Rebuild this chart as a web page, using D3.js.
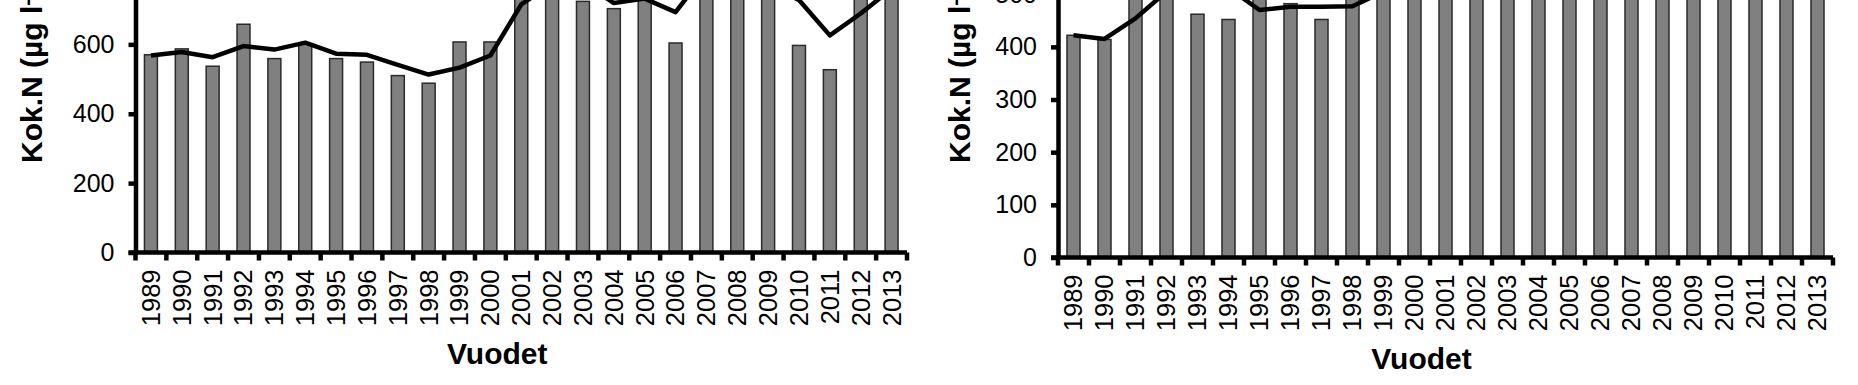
<!DOCTYPE html>
<html>
<head>
<meta charset="utf-8">
<script src="https://cdn.jsdelivr.net/npm/d3@7"></script>
<style>
  body { margin: 0; background: #fff; }
  svg { display: block; font-family: "Liberation Sans", Arial, sans-serif; }
</style>
</head>
<body>
<div class="plot-container"></div>
<script>
const years = ["1989", "1990", "1991", "1992", "1993", "1994", "1995", "1996", "1997", "1998", "1999", "2000", "2001",
  "2002", "2003", "2004", "2005", "2006", "2007", "2008", "2009", "2010", "2011", "2012", "2013"];

// left panel: yearly bars + running line
const leftBars = [570, 587, 537, 658, 559, 602, 559, 549, 510, 488, 607, 607, 850, 900, 724, 703, 780, 604, 950, 870, 820, 597, 527, 800, 880];
const leftLine = [568, 578, 563, 595, 585, 605, 573, 570, 541, 513, 533, 568, 715, 775, 779, 719, 732, 693, 808, 800, 770, 728, 626, 689, 760];
const leftTicks = [0, 200, 400, 600, 800];

// right panel
const rightBars = [422, 414, 560, 600, 462, 452, 495, 482, 452, 495, 600, 620, 580, 640, 610, 590, 650, 600, 620, 700, 640, 580, 600, 620, 650];
const rightLine = [422, 415, 454, 505, 520, 512, 470, 476, 476, 477, 505, 560, 580, 590, 600, 580, 600, 590, 610, 620, 600, 590, 600, 610, 620];
const rightTicks = [0, 100, 200, 300, 400, 500];

const width = 1858, height = 385;
const AXIS_W = 4.5;
const BAR_FILL = "#808080";
const BAR_STROKE = "#2b2b2b";

const svg = d3.select("div.plot-container").append("svg")
  .attr("width", width).attr("height", height);

function drawPanel(opts) {
  const g = svg.append("g");

  const x = d3.scaleBand().domain(years).range([opts.x0, opts.x1]).padding(0);
  const y = d3.scaleLinear().domain(opts.yDomain).range(opts.yRange);
  const barW = x.bandwidth() * 0.42;

  // bars
  g.append("g")
    .selectAll("rect")
    .data(opts.bars)
    .enter()
    .append("rect")
    .attr("x", (d, i) => x(years[i]) + (x.bandwidth() - barW) / 2)
    .attr("width", barW)
    .attr("y", d => y(d))
    .attr("height", d => y(0) - y(d))
    .attr("fill", BAR_FILL)
    .attr("stroke", BAR_STROKE)
    .attr("stroke-width", 1.5);

  // line
  const line = d3.line()
    .x((d, i) => x(years[i]) + x.bandwidth() / 2)
    .y(d => y(d));
  g.append("path")
    .datum(opts.line)
    .attr("d", line)
    .attr("fill", "none")
    .attr("stroke", "#000")
    .attr("stroke-width", 4.5)
    .attr("stroke-linejoin", "round");

  // y axis
  const yAxis = g.append("g")
    .attr("transform", `translate(${opts.x0},0)`)
    .call(d3.axisLeft(y).tickValues(opts.ticks).tickSize(7).tickSizeOuter(0).tickPadding(14));
  yAxis.select(".domain").attr("stroke-width", AXIS_W);
  yAxis.selectAll(".tick line").attr("stroke-width", AXIS_W);
  yAxis.selectAll("text").style("font-size", "25px").attr("fill", "#000");

  // x axis (labels at band centres, ticks at band edges)
  const y0 = y(0);
  const xAxis = g.append("g")
    .attr("transform", `translate(0,${y0})`)
    .call(d3.axisBottom(x).tickSize(0).tickSizeOuter(0));
  xAxis.select(".domain")
    .attr("d", `M${opts.x0 - 7},0H${opts.x1}`)
    .attr("stroke-width", AXIS_W);
  xAxis.selectAll("text")
    .attr("y", null)
    .attr("dy", "0.35em")
    .attr("transform", "translate(0,17) rotate(-90)")
    .attr("text-anchor", "end")
    .style("font-size", "25.5px")
    .attr("fill", "#000");

  const edges = years.map(d => x(d)).concat([x.range()[1]]);
  xAxis.append("g")
    .selectAll("line")
    .data(edges)
    .enter()
    .append("line")
    .attr("x1", d => d).attr("x2", d => d)
    .attr("y1", 0).attr("y2", 8)
    .attr("stroke", "#000")
    .attr("stroke-width", AXIS_W);

  // axis titles
  const yTitle = g.append("text")
    .attr("transform", `translate(${opts.titleX},163) rotate(-90)`)
    .attr("text-anchor", "start")
    .style("font-size", "30px")
    .style("font-weight", "bold");
  yTitle.append("tspan").text("Kok.N (µg l");
  yTitle.append("tspan").attr("dy", "-0.4em").style("font-size", "20px").text("-1");
  yTitle.append("tspan").attr("dy", "0.4em").text(")");

  g.append("text")
    .attr("x", (opts.x0 + opts.x1) / 2 - 24)
    .attr("y", y0 + 111)
    .attr("text-anchor", "middle")
    .style("font-size", "30px")
    .style("font-weight", "bold")
    .text("Vuodet");
}

drawPanel({
  x0: 135.5, x1: 907,
  yDomain: [0, 800], yRange: [252.5, -25],
  ticks: leftTicks, bars: leftBars, line: leftLine,
  titleX: 42
});

drawPanel({
  x0: 1058, x1: 1833,
  yDomain: [0, 500], yRange: [257.5, -5.8],
  ticks: rightTicks, bars: rightBars, line: rightLine,
  titleX: 970
});
</script>
</body>
</html>
